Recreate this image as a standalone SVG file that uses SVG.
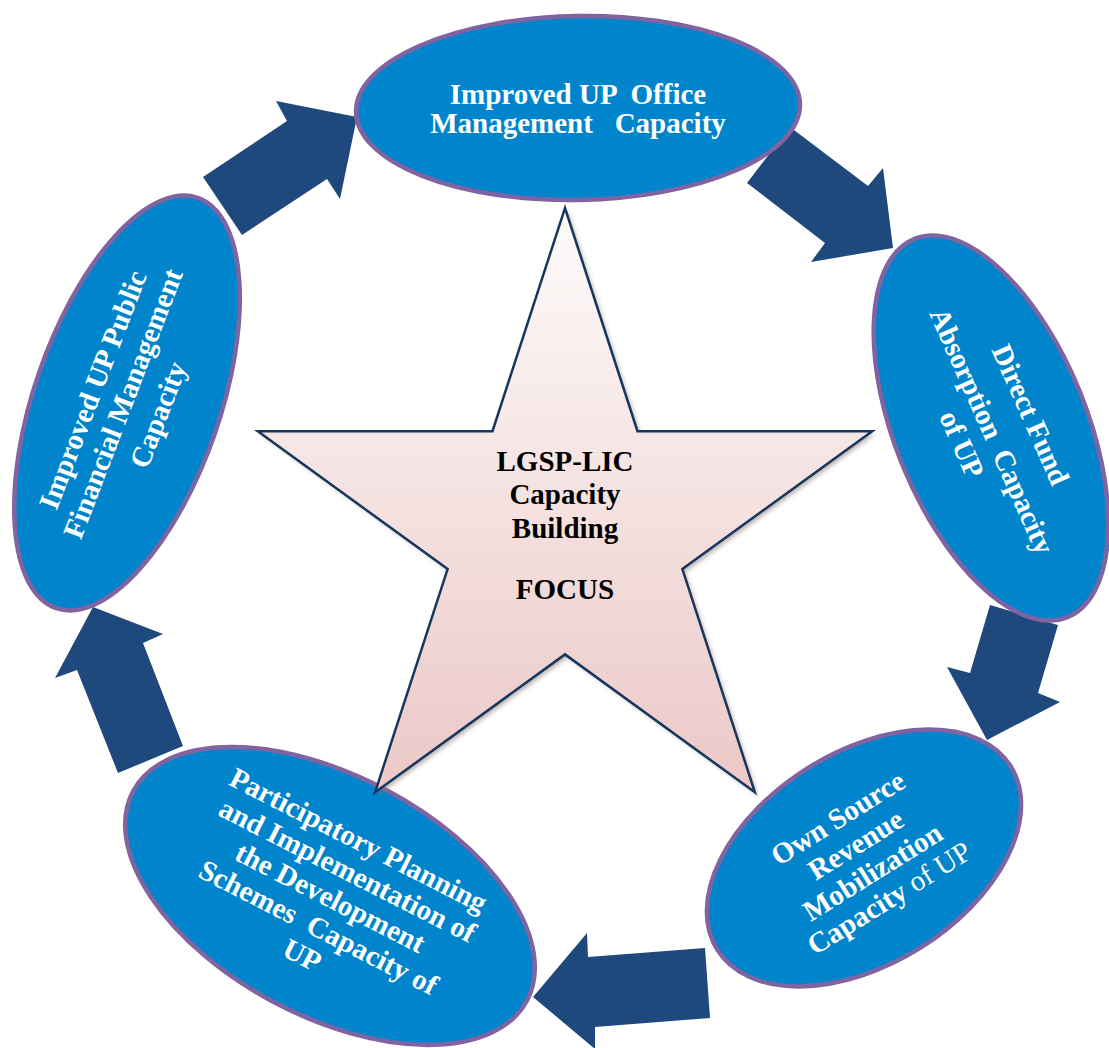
<svg xmlns="http://www.w3.org/2000/svg" width="1109" height="1048" viewBox="0 0 1109 1048">
  <style>
    .arrow { fill: #1F497D; }
    .bubble { fill: #0085CC; stroke: #8064A2; stroke-width: 4.5; }
    .lbl { font-family: "Liberation Serif", "Times New Roman", serif; font-weight: bold; font-size: 29px; fill: #FFFFFF; text-anchor: middle; white-space: pre; }
    .reg { font-weight: normal; }
    .focus { font-family: "Liberation Serif", "Times New Roman", serif; font-weight: bold; font-size: 29px; fill: #000000; text-anchor: middle; }
  </style>
  <defs>
    <linearGradient id="starFill" x1="0" y1="0" x2="0" y2="1">
      <stop offset="0" stop-color="#FDFBFB"/>
      <stop offset="1" stop-color="#EBC8C6"/>
    </linearGradient>
    <filter id="soft" x="-10%" y="-10%" width="120%" height="120%">
      <feGaussianBlur stdDeviation="2"/>
    </filter>
  </defs>

  <rect width="1109" height="1048" fill="#FFFFFF"/>

  <!-- cycle arrows between the capacity areas -->
  <g id="connectors">
    <polygon class="arrow" points="203,177 287,121 276,101 357,117 340,199 327,179 242,235"/>
    <polygon class="arrow" points="790,127 868,186 883,168 893,248 811,262 825,243 747,183"/>
    <polygon class="arrow" points="990,605 1058,625 1038,693 1060,702 987,740 947,667 970,673"/>
    <polygon class="arrow" points="705,948 710,1018 595,1027 595,1049 533,997 587,933 588,957"/>
    <polygon class="arrow" points="118,773 183,746 143,643 163,634 93,607 55,678 77,670"/>
  </g>

  <g id="node-office">
    <ellipse class="bubble" cx="0" cy="0" rx="222" ry="92" transform="translate(578,108) rotate(-1)"/>
    <text class="lbl" x="578" y="104" xml:space="preserve">Improved UP  Office</text>
    <text class="lbl" x="578" y="133" xml:space="preserve">Management   Capacity</text>
  </g>

  <g id="node-fund">
    <ellipse class="bubble" cx="0" cy="0" rx="204" ry="96" transform="translate(991,428) rotate(68)"/>
    <g transform="translate(991,428) rotate(66)">
      <text class="lbl" x="4" y="-32">Direct Fund</text>
      <text class="lbl" x="3" y="10" xml:space="preserve">Absorption  Capacity</text>
      <text class="lbl" x="3" y="43">of UP</text>
    </g>
  </g>

  <g id="node-revenue">
    <ellipse class="bubble" cx="0" cy="0" rx="173" ry="106" transform="translate(864,858) rotate(-32)"/>
    <g transform="translate(864,858) rotate(-32)">
      <text class="lbl" x="-1" y="-38">Own Source</text>
      <text class="lbl" x="0" y="-6">Revenue</text>
      <text class="lbl" x="0" y="26">Mobilization</text>
      <text class="lbl" x="0" y="57">Capacity<tspan class="reg"> of UP</tspan></text>
    </g>
  </g>

  <g id="node-planning">
    <ellipse class="bubble" cx="0" cy="0" rx="223" ry="120" transform="translate(330,896) rotate(28)"/>
    <g transform="translate(330,896) rotate(27)">
      <text class="lbl" x="0" y="-53">Participatory Planning</text>
      <text class="lbl" x="4" y="-21">and Implementation of</text>
      <text class="lbl" x="1" y="11">the Development</text>
      <text class="lbl" x="4" y="43" xml:space="preserve">Schemes  Capacity of</text>
      <text class="lbl" x="2" y="75">UP</text>
    </g>
  </g>

  <g id="node-finance">
    <ellipse class="bubble" cx="0" cy="0" rx="217" ry="93" transform="translate(127,403) rotate(-71)"/>
    <g transform="translate(127,403) rotate(-69)">
      <text class="lbl" x="0" y="-27">Improved UP Public</text>
      <text class="lbl" x="-2" y="6">Financial Management</text>
      <text class="lbl" x="0" y="43">Capacity</text>
    </g>
  </g>

  <!-- central five-pointed star -->
  <g id="focus-star">
    <polygon points="565,208 637.5,431.2 872.2,431.2 682.4,569.1 754.9,792.3 565,654.4 375.1,792.3 447.6,569.1 257.8,431.2 492.5,431.2" fill="#8E7A76" opacity="0.55" filter="url(#soft)" transform="translate(3,3)"/>
    <polygon points="565,208 637.5,431.2 872.2,431.2 682.4,569.1 754.9,792.3 565,654.4 375.1,792.3 447.6,569.1 257.8,431.2 492.5,431.2" fill="url(#starFill)" stroke="#17365D" stroke-width="2.5" stroke-linejoin="miter"/>
    <text class="focus" x="565" y="471">LGSP-LIC</text>
    <text class="focus" x="565" y="504">Capacity</text>
    <text class="focus" x="565" y="538">Building</text>
    <text class="focus" x="565" y="599">FOCUS</text>
  </g>
</svg>
